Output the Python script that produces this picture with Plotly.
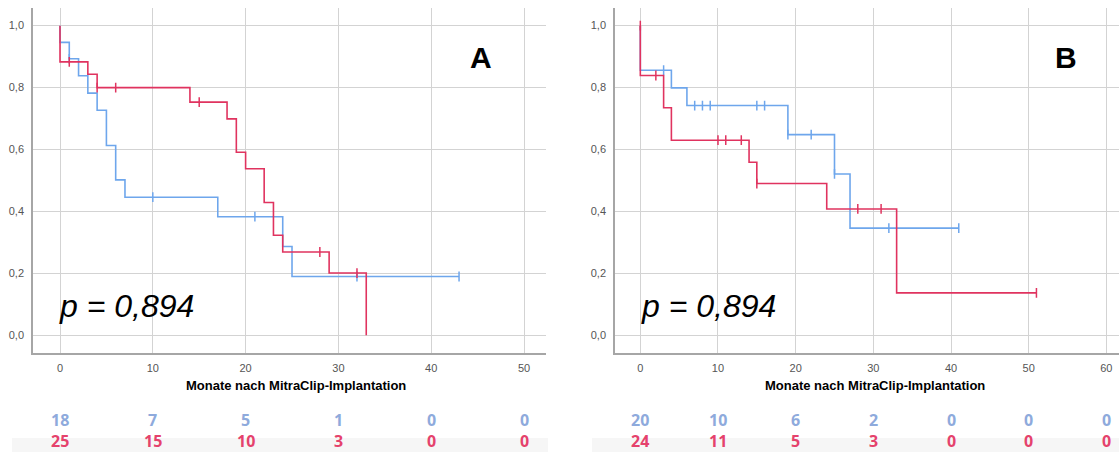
import plotly.graph_objects as go

W, H = 1119, 452

# ---- Panel A: survival steps (time in months, survival after drop) ----
a_blue_t = [0, 1, 2, 3, 4, 5, 6, 7, 17, 24, 25]
a_blue_s = [0.946, 0.893, 0.838, 0.782, 0.727, 0.613, 0.502, 0.446, 0.383, 0.287, 0.190]
a_blue_cens = [1, 10, 21, 32, 43]
a_blue_end = 43

a_red_t = [0, 3, 4, 14, 18, 19, 20, 22, 23, 24, 29, 33]
a_red_s = [0.883, 0.843, 0.800, 0.753, 0.699, 0.591, 0.538, 0.429, 0.323, 0.269, 0.201, 0.0]
a_red_cens = [1, 4, 6, 15, 28, 32]
a_red_end = 33

# ---- Panel B ----
b_blue_t = [0, 4, 6, 19, 25, 27]
b_blue_s = [0.856, 0.799, 0.742, 0.648, 0.521, 0.346]
b_blue_cens = [3, 7, 8, 9, 15, 16, 19, 22, 25, 32, 41]
b_blue_end = 41

b_red_t = [0, 3, 4, 14, 15, 24, 33]
b_red_s = [0.839, 0.735, 0.630, 0.559, 0.490, 0.408, 0.137]
b_red_cens = [0, 2, 10, 11, 13, 15, 28, 31, 51]
b_red_end = 51

# ---- numbers at risk ----
risk_a_times = [0, 10, 20, 30, 40, 50]
risk_a_blue = [18, 7, 5, 1, 0, 0]
risk_a_red = [25, 15, 10, 3, 0, 0]
risk_b_times = [0, 10, 20, 30, 40, 50, 60]
risk_b_blue = [20, 10, 6, 2, 0, 0, 0]
risk_b_red = [24, 11, 5, 3, 0, 0, 0]

p_text = "p = 0,894"
x_title = "Monate nach MitraClip-Implantation"

BLUE_LINE = "#6ea6ec"
RED_LINE = "#e0335f"
BLUE_NUM = "#8eaadc"
RED_NUM = "#e5426c"


def surv_at(times, surv, t):
    if t <= 0:
        return 1.0
    s = 1.0
    for et, es in zip(times, surv):
        if et <= t:
            s = es
    return s


def add_curve(fig, times, surv, cens, end, color, xa, ya):
    xs = [0] + list(times)
    ys = [1.0] + list(surv)
    if end > xs[-1]:
        xs.append(end)
        ys.append(ys[-1])
    fig.add_trace(go.Scatter(x=xs, y=ys, mode="lines", line=dict(color=color, width=1.6, shape="hv"),
                             xaxis=xa, yaxis=ya, showlegend=False, hoverinfo="skip"))
    fig.add_trace(go.Scatter(x=cens, y=[surv_at(times, surv, c) for c in cens], mode="markers",
                             marker=dict(symbol="line-ns", size=7, line=dict(color=color, width=1.5)),
                             xaxis=xa, yaxis=ya, showlegend=False, hoverinfo="skip"))


fig = go.Figure()
add_curve(fig, a_blue_t, a_blue_s, a_blue_cens, a_blue_end, BLUE_LINE, "x", "y")
add_curve(fig, a_red_t, a_red_s, a_red_cens, a_red_end, RED_LINE, "x", "y")
add_curve(fig, b_blue_t, b_blue_s, b_blue_cens, b_blue_end, BLUE_LINE, "x2", "y2")
add_curve(fig, b_red_t, b_red_s, b_red_cens, b_red_end, RED_LINE, "x2", "y2")

ydom = [1 - 352.5 / H, 1 - 8.3 / H]
axis_common = dict(showgrid=True, gridcolor="#d3d3d3", gridwidth=1.3, zeroline=False,
                   showline=True, linecolor="#a6a6a6", linewidth=1.6, ticks="",
                   tickfont=dict(family="Liberation Sans", size=11, color="#555555"))

fig.update_layout(
    width=W, height=H, autosize=False,
    margin=dict(l=0, r=0, t=0, b=0),
    paper_bgcolor="white", plot_bgcolor="white",
    separators=",.",
    xaxis=dict(domain=[33 / W, 546 / W], range=[-2.91, 52.37], dtick=10, tick0=0,
               anchor="y", ticklabelstandoff=4, **axis_common),
    yaxis=dict(domain=ydom, range=[-0.0555, 1.056], dtick=0.2, tick0=0, tickformat=".1f",
               anchor="x", ticklabelstandoff=5, **axis_common),
    xaxis2=dict(domain=[615 / W, 1.0], range=[-3.26, 61.63], dtick=10, tick0=0,
                anchor="y2", ticklabelstandoff=4, **axis_common),
    yaxis2=dict(domain=ydom, range=[-0.0555, 1.056], dtick=0.2, tick0=0, tickformat=".1f",
                anchor="x2", ticklabelstandoff=5, **axis_common),
)

# light band behind the second row of numbers at risk
for x0, x1 in [(12, 548), (592, W)]:
    fig.add_shape(type="rect", xref="paper", yref="paper", x0=x0 / W, x1=x1 / W,
                  y0=0, y1=(H - 438) / H, fillcolor="#f6f6f6", line=dict(width=0), layer="below")

ann = []
for cx in (296, 875):
    ann.append(dict(text=x_title, x=cx / W, y=1 - 385.5 / H, xref="paper", yref="paper",
                    showarrow=False, xanchor="center", yanchor="middle",
                    font=dict(family="Liberation Sans", size=13, color="#000000", weight="bold")))
for lx in (57, 639):
    ann.append(dict(text="<i>" + p_text + "</i>", x=lx / W, y=1 - 306 / H, xref="paper", yref="paper",
                    showarrow=False, xanchor="left", yanchor="middle",
                    font=dict(family="Liberation Sans", size=32, color="#000000")))
for lab, cx in (("A", 481), ("B", 1066)):
    ann.append(dict(text="<b>" + lab + "</b>", x=cx / W, y=1 - 57 / H, xref="paper", yref="paper",
                    showarrow=False, xanchor="center", yanchor="middle",
                    font=dict(family="Liberation Sans", size=30, color="#000000")))


def risk_row(times, vals, xref, color, ypix):
    for t, v in zip(times, vals):
        ann.append(dict(text="<b>%d</b>" % v, x=t, y=1 - ypix / H, xref=xref, yref="paper",
                        showarrow=False, xanchor="center", yanchor="middle", borderpad=0,
                        font=dict(family="Open Sans", size=16, color=color)))


risk_row(risk_a_times, risk_a_blue, "x", BLUE_NUM, 419.5)
risk_row(risk_a_times, risk_a_red, "x", RED_NUM, 441)
risk_row(risk_b_times, risk_b_blue, "x2", BLUE_NUM, 419.5)
risk_row(risk_b_times, risk_b_red, "x2", RED_NUM, 441)

fig.update_layout(annotations=ann)
fig.write_html("out.html")
